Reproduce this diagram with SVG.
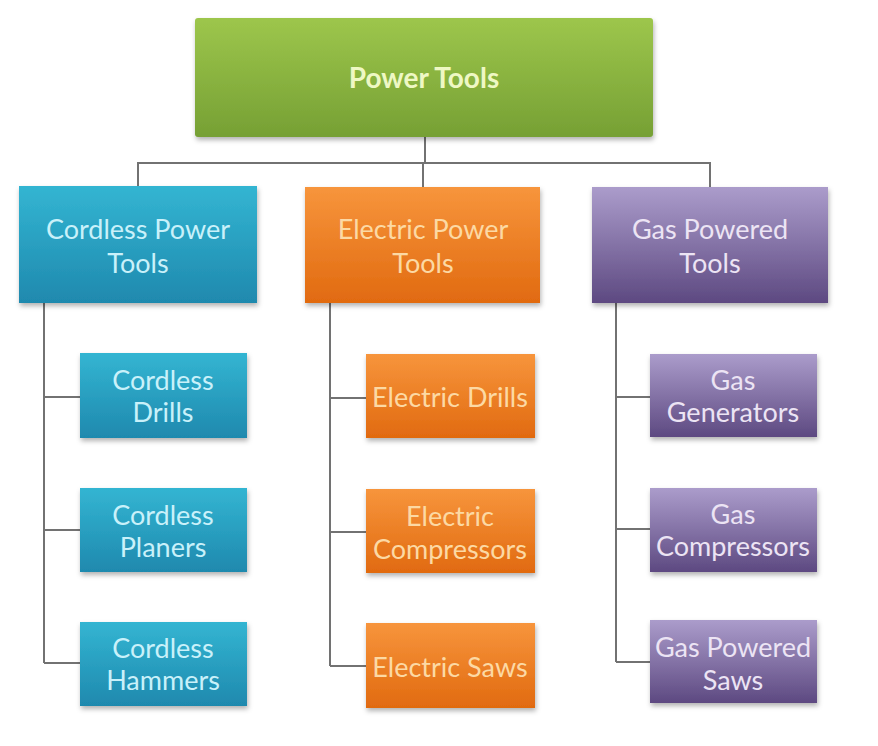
<svg xmlns="http://www.w3.org/2000/svg" width="878" height="746" viewBox="0 0 878 746">
<defs>
<linearGradient id="gGreen" x1="0" y1="0" x2="0" y2="1"><stop offset="0" stop-color="#9dc64c"/><stop offset="1" stop-color="#76a034"/></linearGradient>
<linearGradient id="gBlue" x1="0" y1="0" x2="0" y2="1"><stop offset="0" stop-color="#33b5d2"/><stop offset="1" stop-color="#1f89ae"/></linearGradient>
<linearGradient id="gOrange" x1="0" y1="0" x2="0" y2="1"><stop offset="0" stop-color="#f7953c"/><stop offset="1" stop-color="#e16a10"/></linearGradient>
<linearGradient id="gPurple" x1="0" y1="0" x2="0" y2="1"><stop offset="0" stop-color="#ab9ccb"/><stop offset="1" stop-color="#5d4981"/></linearGradient>
<filter id="sh" x="-10%" y="-10%" width="120%" height="130%"><feDropShadow dx="1" dy="3" stdDeviation="2.5" flood-color="#000" flood-opacity="0.3"/></filter>
</defs>
<style>
text{font-family:Lato,"Open Sans","Liberation Sans",sans-serif;font-size:27px;text-anchor:middle;dominant-baseline:central}
.box{filter:url(#sh)}
.g{fill:url(#gGreen)} .b{fill:url(#gBlue)} .o{fill:url(#gOrange)} .p{fill:url(#gPurple)}
.tg{fill:#eef8c4;font-weight:bold;font-size:28px}
.tb{fill:#c9f1fa} .to{fill:#fcd9a4} .tp{fill:#ece4f4}
.conn{fill:none;stroke:#727272;stroke-width:2}
</style>
<rect width="878" height="746" fill="#ffffff"/>
<g id="connectors" class="conn">
<path d="M425 137 V163 M138 186 V163 H710 V187 M423 163 V187"/>
<path d="M44 303 V663 M44 397 H80 M44 530 H80 M44 663 H80"/>
<path d="M330 303 V666 M330 398 H366 M330 532 H366 M330 666 H366"/>
<path d="M616 303 V662 M616 397 H650 M616 529 H650 M616 662 H650"/>
</g>
<g id="power-tools"><rect class="box g" x="195" y="18" width="458" height="119" rx="3"/><text class="tg" x="424" y="77">Power Tools</text></g>
<g id="cordless-power-tools"><rect class="box b" x="19" y="186" width="238" height="117"/><text class="tb" x="138" y="228">Cordless Power</text><text class="tb" x="138" y="262">Tools</text></g>
<g id="electric-power-tools"><rect class="box o" x="305" y="187" width="235" height="116"/><text class="to" x="423" y="228">Electric Power</text><text class="to" x="423" y="262">Tools</text></g>
<g id="gas-powered-tools"><rect class="box p" x="592" y="187" width="236" height="116"/><text class="tp" x="710" y="228">Gas Powered</text><text class="tp" x="710" y="262">Tools</text></g>
<g id="cordless-drills"><rect class="box b" x="80" y="353" width="167" height="85"/><text class="tb" x="163" y="379">Cordless</text><text class="tb" x="163" y="411">Drills</text></g>
<g id="cordless-planers"><rect class="box b" x="80" y="488" width="167" height="84"/><text class="tb" x="163" y="514">Cordless</text><text class="tb" x="163" y="546">Planers</text></g>
<g id="cordless-hammers"><rect class="box b" x="80" y="622" width="167" height="84"/><text class="tb" x="163" y="647">Cordless</text><text class="tb" x="163" y="679">Hammers</text></g>
<g id="electric-drills"><rect class="box o" x="366" y="354" width="169" height="84"/><text class="to" x="450" y="396">Electric Drills</text></g>
<g id="electric-compressors"><rect class="box o" x="366" y="489" width="169" height="84"/><text class="to" x="450" y="515">Electric</text><text class="to" x="450" y="548">Compressors</text></g>
<g id="electric-saws"><rect class="box o" x="366" y="623" width="169" height="85"/><text class="to" x="450" y="666">Electric Saws</text></g>
<g id="gas-generators"><rect class="box p" x="650" y="354" width="167" height="83"/><text class="tp" x="733" y="379">Gas</text><text class="tp" x="733" y="411">Generators</text></g>
<g id="gas-compressors"><rect class="box p" x="650" y="488" width="167" height="84"/><text class="tp" x="733" y="513">Gas</text><text class="tp" x="733" y="545">Compressors</text></g>
<g id="gas-powered-saws"><rect class="box p" x="650" y="620" width="167" height="83"/><text class="tp" x="733" y="646">Gas Powered</text><text class="tp" x="733" y="679">Saws</text></g>
</svg>
